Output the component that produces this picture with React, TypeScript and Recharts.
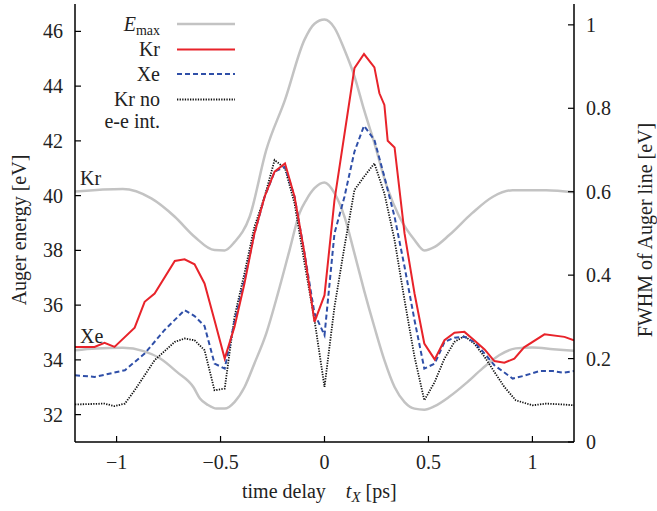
import React from "react";
import { ComposedChart, Line, XAxis, YAxis } from "recharts";

// ---- data (time delay t_X in ps) ----
const emaxKrT = [-1.2, -0.97, -0.833, -0.72, -0.625, -0.529, -0.48, -0.433, -0.36, -0.28, -0.19, -0.096, -0.048, 0, 0.048, 0.096, 0.144, 0.19, 0.24, 0.3, 0.36, 0.433, 0.48, 0.53, 0.6, 0.71, 0.81, 0.905, 1.066, 1.2];
const emaxKrV = [40.15, 40.24, 39.9, 39.23, 38.5, 38.01, 38.0, 38.3, 39.23, 41.67, 43.5, 45.7, 46.28, 46.43, 46.13, 45.33, 44.36, 43.14, 41.92, 40.33, 39.23, 38.38, 38.0, 38.13, 38.56, 39.36, 39.96, 40.2, 40.2, 40.12];

const emaxXeT = [-1.2, -1.1, -0.97, -0.87, -0.79, -0.71, -0.63, -0.6, -0.56, -0.52, -0.48, -0.433, -0.385, -0.337, -0.28, -0.224, -0.168, -0.12, -0.088, -0.048, 0, 0.048, 0.096, 0.144, 0.19, 0.24, 0.288, 0.337, 0.385, 0.433, 0.48, 0.53, 0.6, 0.68, 0.76, 0.84, 0.92, 1.0, 1.1, 1.2];
const emaxXeV = [34.35, 34.42, 34.44, 34.32, 34.05, 33.56, 33.0, 32.6, 32.35, 32.22, 32.22, 32.46, 33.0, 33.87, 34.97, 36.43, 38.01, 39.36, 39.84, 40.27, 40.48, 40.09, 39.23, 37.89, 36.55, 35.2, 33.99, 33.01, 32.46, 32.22, 32.18, 32.31, 32.65, 33.14, 33.69, 34.17, 34.42, 34.45, 34.39, 34.33];

const krT = [-1.2, -1.106, -1.058, -1.01, -0.913, -0.865, -0.817, -0.72, -0.673, -0.625, -0.577, -0.529, -0.48, -0.433, -0.385, -0.337, -0.288, -0.24, -0.19, -0.144, -0.096, -0.048, 0, 0.048, 0.144, 0.19, 0.24, 0.264, 0.288, 0.304, 0.337, 0.385, 0.433, 0.48, 0.53, 0.577, 0.625, 0.673, 0.72, 0.77, 0.817, 0.865, 0.913, 0.96, 1.058, 1.154, 1.2];
const krV = [0.228, 0.228, 0.238, 0.228, 0.274, 0.336, 0.356, 0.434, 0.438, 0.426, 0.38, 0.292, 0.2, 0.276, 0.38, 0.5, 0.588, 0.648, 0.668, 0.588, 0.452, 0.288, 0.352, 0.58, 0.896, 0.93, 0.898, 0.836, 0.808, 0.722, 0.706, 0.5, 0.356, 0.236, 0.198, 0.244, 0.262, 0.264, 0.244, 0.222, 0.194, 0.19, 0.2, 0.227, 0.258, 0.252, 0.244];

const xeT = [-1.2, -1.106, -0.96, -0.865, -0.77, -0.673, -0.625, -0.577, -0.529, -0.48, -0.433, -0.385, -0.337, -0.288, -0.24, -0.19, -0.144, -0.096, -0.048, 0, 0.048, 0.096, 0.144, 0.19, 0.24, 0.288, 0.337, 0.385, 0.433, 0.48, 0.53, 0.577, 0.625, 0.673, 0.72, 0.77, 0.817, 0.905, 0.954, 1.034, 1.1, 1.146, 1.2];
const xeV = [0.16, 0.156, 0.172, 0.212, 0.268, 0.316, 0.302, 0.278, 0.188, 0.176, 0.288, 0.388, 0.5, 0.588, 0.648, 0.66, 0.588, 0.452, 0.308, 0.256, 0.5, 0.588, 0.696, 0.758, 0.724, 0.636, 0.54, 0.42, 0.292, 0.176, 0.188, 0.24, 0.25, 0.252, 0.24, 0.212, 0.184, 0.152, 0.158, 0.17, 0.17, 0.166, 0.17];

const krNoT = [-1.2, -1.058, -1.01, -0.96, -0.913, -0.817, -0.72, -0.673, -0.625, -0.577, -0.529, -0.48, -0.433, -0.385, -0.337, -0.288, -0.24, -0.19, -0.144, -0.096, -0.048, 0, 0.048, 0.096, 0.144, 0.19, 0.24, 0.288, 0.337, 0.385, 0.433, 0.48, 0.53, 0.577, 0.625, 0.673, 0.72, 0.77, 0.817, 0.865, 0.92, 1.0, 1.066, 1.146, 1.2];
const krNoV = [0.09, 0.092, 0.086, 0.092, 0.124, 0.196, 0.24, 0.248, 0.244, 0.22, 0.124, 0.128, 0.3, 0.404, 0.516, 0.588, 0.676, 0.656, 0.572, 0.428, 0.292, 0.132, 0.324, 0.468, 0.604, 0.636, 0.668, 0.596, 0.484, 0.34, 0.204, 0.1, 0.144, 0.2, 0.24, 0.254, 0.236, 0.204, 0.168, 0.132, 0.1, 0.088, 0.092, 0.09, 0.088];

const xTicks = [-1, -0.5, 0, 0.5, 1];
const leftTicks = [32, 34, 36, 38, 40, 42, 44, 46];
const rightTicks = [0, 0.2, 0.4, 0.6, 0.8, 1];

const toRows = (ts: number[], vs: number[]) => ts.map((t, i) => ({ t, v: vs[i] }));

const FONT = '"Liberation Serif", "Times New Roman", "DejaVu Serif", serif';
const FS = 20;
const TS: React.CSSProperties = { fontFamily: FONT, fontSize: FS };
const fmt = (v: number) => (v < 0 ? "\u2212" + String(-v) : String(v));

const BottomTick = (p: any) => (
  <g>
    <line x1={p.x} x2={p.x} y1={p.y} y2={p.y - 6} stroke="#000" strokeWidth={1.2} />
    <text x={p.x} y={p.y + 27} textAnchor="middle" style={TS} fill="#222">
      {fmt(p.payload.value)}
    </text>
  </g>
);
const TopTick = (p: any) => (
  <line x1={p.x} x2={p.x} y1={p.y} y2={p.y + 6} stroke="#000" strokeWidth={1.2} />
);
const LeftTick = (p: any) => (
  <g>
    <line x1={p.x} x2={p.x + 6} y1={p.y} y2={p.y} stroke="#000" strokeWidth={1.2} />
    <text x={p.x - 12} y={p.y + 7} textAnchor="end" style={TS} fill="#222">
      {fmt(p.payload.value)}
    </text>
  </g>
);
const RightTick = (p: any) => (
  <g>
    <line x1={p.x} x2={p.x - 6} y1={p.y} y2={p.y} stroke="#000" strokeWidth={1.2} />
    <text x={p.x + 12} y={p.y + 7} textAnchor="start" style={TS} fill="#222">
      {fmt(p.payload.value)}
    </text>
  </g>
);

const GRAY = "#c3c3c3";
const RED = "#e8232a";
const BLUE = "#2f4fa8";

export default function App() {
  const axisLine = { stroke: "#000", strokeWidth: 1.5 };
  return (
    <div style={{ position: "absolute", left: 0, top: 0, width: 657, height: 511 }}>
      <ComposedChart width={657} height={511} margin={{ top: 4, right: 0, bottom: 0, left: 0 }}>
        <XAxis xAxisId="b" type="number" dataKey="t" domain={[-1.2, 1.2]} ticks={xTicks} height={69}
          tickSize={0} tickMargin={0} tick={BottomTick} axisLine={axisLine} allowDataOverflow />
        <XAxis xAxisId="top" orientation="top" type="number" dataKey="t" domain={[-1.2, 1.2]} ticks={xTicks} height={0}
          tickSize={0} tickMargin={0} tick={TopTick} axisLine={axisLine} allowDataOverflow />
        <YAxis yAxisId="L" orientation="left" type="number" domain={[31, 47]} ticks={leftTicks} width={75}
          tickSize={0} tickMargin={0} tick={LeftTick} axisLine={axisLine} allowDataOverflow />
        <YAxis yAxisId="R" orientation="right" type="number" domain={[0, 1.05]} ticks={rightTicks} width={83}
          tickSize={0} tickMargin={0} tick={RightTick} axisLine={axisLine} allowDataOverflow />
        <Line xAxisId="b" yAxisId="L" data={toRows(emaxKrT, emaxKrV)} dataKey="v" type="monotone" stroke={GRAY} strokeWidth={2.5} dot={false} isAnimationActive={false} />
        <Line xAxisId="b" yAxisId="L" data={toRows(emaxXeT, emaxXeV)} dataKey="v" type="monotone" stroke={GRAY} strokeWidth={2.5} dot={false} isAnimationActive={false} />
        <Line xAxisId="b" yAxisId="R" data={toRows(krNoT, krNoV)} dataKey="v" type="linear" stroke="#111" strokeWidth={1.8} strokeDasharray="1.3 1.3" dot={false} isAnimationActive={false} />
        <Line xAxisId="b" yAxisId="R" data={toRows(xeT, xeV)} dataKey="v" type="linear" stroke={BLUE} strokeWidth={2} strokeDasharray="5 3" dot={false} isAnimationActive={false} />
        <Line xAxisId="b" yAxisId="R" data={toRows(krT, krV)} dataKey="v" type="linear" stroke={RED} strokeWidth={2} dot={false} isAnimationActive={false} />
      </ComposedChart>
      <svg width={657} height={511} style={{ position: "absolute", left: 0, top: 0, pointerEvents: "none", fontFamily: FONT, fontSize: FS }}
        fill="#222">
        {/* legend */}
        <text x={160} y={31} textAnchor="end" style={TS}>
          <tspan fontStyle="italic">E</tspan>
          <tspan style={{ fontSize: 14 }} dy={4}>max</tspan>
        </text>
        <line x1={177} x2={235} y1={24} y2={24} stroke={GRAY} strokeWidth={2.5} />
        <text x={160} y={56} textAnchor="end" style={TS}>Kr</text>
        <line x1={177} x2={235} y1={49.5} y2={49.5} stroke={RED} strokeWidth={2} />
        <text x={160} y={80.5} textAnchor="end" style={TS}>Xe</text>
        <line x1={177} x2={235} y1={74} y2={74} stroke={BLUE} strokeWidth={2} strokeDasharray="5 3" />
        <text x={160} y={106} textAnchor="end" style={TS}>Kr no</text>
        <line x1={177} x2={235} y1={99.5} y2={99.5} stroke="#111" strokeWidth={1.8} strokeDasharray="1.3 1.3" />
        <text x={160} y={128} textAnchor="end" style={TS}>e-e int.</text>
        {/* curve annotations */}
        <text x={80} y={185} style={TS}>Kr</text>
        <text x={80} y={343} style={TS}>Xe</text>
        {/* axis titles */}
        <text transform="translate(26,230) rotate(-90)" textAnchor="middle" style={TS}>Auger energy [eV]</text>
        <text transform="translate(652,230) rotate(-90)" textAnchor="middle" style={TS}>FWHM of Auger line [eV]</text>
        <text x={242} y={498} style={TS}>
          time delay
          <tspan dx={20} fontStyle="italic">t</tspan>
          <tspan fontStyle="italic" style={{ fontSize: 15 }} dy={4}>X</tspan>
          <tspan dy={-4}> [ps]</tspan>
        </text>
      </svg>
    </div>
  );
}
